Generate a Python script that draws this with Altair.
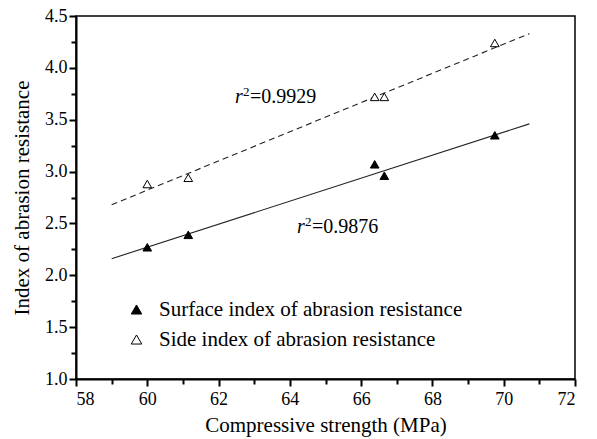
import altair as alt
import pandas as pd

# data
strength = [60.0, 61.15, 66.38, 66.65, 69.75]
surface_idx = [2.27, 2.39, 3.07, 2.96, 3.35]
side_idx = [2.88, 2.94, 3.72, 3.72, 4.24]

fit_x = [59.0, 70.72]
surface_fit = [2.16, 3.46]
side_fit = [2.68, 4.33]

ann_x = [62.46, 64.2]
ann_y = [3.66, 2.41]
ann_txt = ["=0.9929", "=0.9876"]

series = ["Surface index of abrasion resistance", "Side index of abrasion resistance"]

pts = pd.DataFrame({
    "x": strength * 2,
    "y": surface_idx + side_idx,
    "s": [series[0]] * 5 + [series[1]] * 5,
})
fit_s = pd.DataFrame({"x": fit_x, "y": surface_fit})
fit_d = pd.DataFrame({"x": fit_x, "y": side_fit})
ann = pd.DataFrame({"x": ann_x, "y": ann_y, "t": ann_txt})

FONT = "Liberation Serif"
xs = alt.Scale(domain=[58, 72], nice=False, zero=False)
ys = alt.Scale(domain=[1.0, 4.5], nice=False, zero=False)

x_major = alt.X("x:Q", scale=xs, title="Compressive strength (MPa)",
                axis=alt.Axis(orient="bottom", values=list(range(58, 73, 2)), grid=False, tickSize=7,
                              tickWidth=2, domainWidth=2, domainColor="black", tickColor="black",
                              labelFontSize=18, labelColor="black", labelFont=FONT, labelPadding=4,
                              titleFont=FONT, titleFontSize=21, titleFontWeight="normal",
                              titleColor="black", titlePadding=6))
y_major = alt.Y("y:Q", scale=ys, title="Index of abrasion resistance",
                axis=alt.Axis(orient="left", values=[1.0, 1.5, 2.0, 2.5, 3.0, 3.5, 4.0, 4.5], format=".1f",
                              grid=False, tickSize=7, tickWidth=2, domainWidth=2,
                              domainColor="black", tickColor="black",
                              labelFontSize=18, labelColor="black", labelFont=FONT, labelPadding=2,
                              titleFont=FONT, titleFontSize=21, titleFontWeight="normal",
                              titleColor="black", titlePadding=12))

x_minor = alt.X("x:Q", scale=xs, title=None,
                axis=alt.Axis(orient="bottom", values=list(range(59, 72, 2)), labels=False,
                              domain=False, grid=False, tickSize=5, tickWidth=2, tickColor="black"))
y_minor = alt.Y("y:Q", scale=ys, title=None,
                axis=alt.Axis(orient="left", values=[1.25, 1.75, 2.25, 2.75, 3.25, 3.75, 4.25],
                              labels=False, domain=False, grid=False, tickSize=5, tickWidth=2,
                              tickColor="black"))

line_s = alt.Chart(fit_s).mark_line(color="#222", strokeWidth=1.1).encode(x=x_major, y=y_major)
minor = alt.Chart(fit_s).mark_point(opacity=0).encode(x=x_minor, y=y_minor)
line_d = alt.Chart(fit_d).mark_line(color="#222", strokeWidth=1.1, strokeDash=[6, 4]).encode(
    x=alt.X("x:Q", scale=xs, axis=None), y=alt.Y("y:Q", scale=ys, axis=None))

points = alt.Chart(pts).mark_point(shape="triangle-up", size=75, stroke="black",
                                   strokeWidth=1, opacity=1).encode(
    x=alt.X("x:Q", scale=xs, axis=None), y=alt.Y("y:Q", scale=ys, axis=None),
    fill=alt.Fill("s:N", scale=alt.Scale(domain=series, range=["black", "white"]),
                  legend=alt.Legend(title=None, orient="none", legendX=50, legendY=283,
                                    symbolType="triangle-up", symbolSize=110,
                                    symbolStrokeColor="black", symbolStrokeWidth=1,
                                    labelFont=FONT, labelFontSize=21, labelColor="black",
                                    labelLimit=0, rowPadding=8, labelOffset=12)),
)

def noax(ch):
    return ch.encode(x=alt.X("x:Q", scale=xs, axis=None), y=alt.Y("y:Q", scale=ys, axis=None))

r_txt = noax(alt.Chart(ann).mark_text(text="r", font=FONT, fontSize=20, fontStyle="italic",
                                      align="left", baseline="alphabetic", color="black"))
sup_txt = noax(alt.Chart(ann).mark_text(text="2", font=FONT, fontSize=13, align="left",
                                        baseline="alphabetic", dx=8, dy=-7, color="black"))
eq_txt = noax(alt.Chart(ann).mark_text(font=FONT, fontSize=20, align="left",
                                       baseline="alphabetic", dx=15, color="black")).encode(text="t:N")

chart = alt.layer(line_s, minor, line_d, points, r_txt, sup_txt, eq_txt).resolve_axis(
    x="independent", y="independent"
).properties(
    width=499, height=363,
    autosize=alt.AutoSizeParams(type="none"),
    padding={"left": 68, "top": 8, "right": 14, "bottom": 60},
).configure_view(stroke="black", strokeWidth=1.5)

chart.save("out.html", embed_options={"renderer": "svg", "actions": False})
